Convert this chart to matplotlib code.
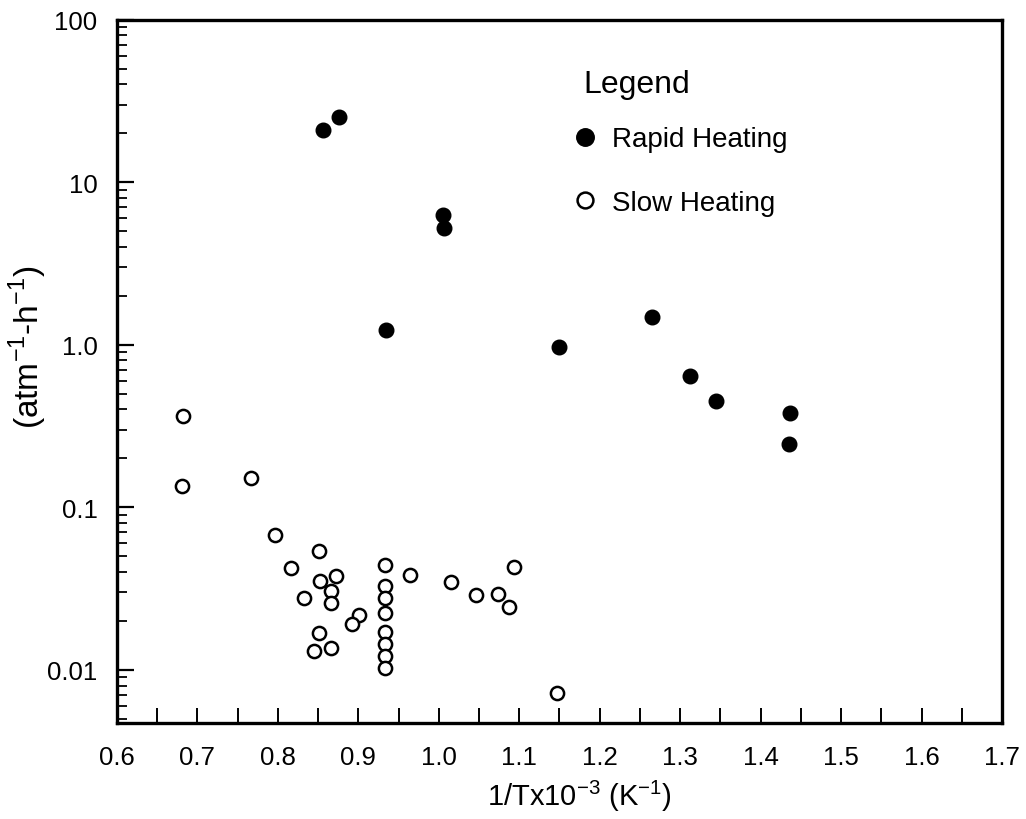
import numpy as np
import matplotlib
matplotlib.use("Agg")
import matplotlib.pyplot as plt
from matplotlib.ticker import FixedLocator, FixedFormatter, MultipleLocator, LogLocator, NullFormatter

plt.rcParams['font.family'] = ['Liberation Sans', 'DejaVu Sans']
plt.rcParams['mathtext.fontset'] = 'custom'
plt.rcParams['mathtext.rm'] = 'Liberation Sans'

# Rapid heating (filled circles)
rapid_x = [0.856, 0.876, 1.005, 1.006, 0.935, 1.149, 1.265, 1.312, 1.345, 1.437, 1.435]
rapid_y = [21.0, 25.1, 6.28, 5.20, 1.24, 0.964, 1.48, 0.640, 0.449, 0.382, 0.244]

# Slow heating (open circles)
slow_x = [0.682, 0.681, 0.767, 0.797, 0.851, 0.816, 0.872, 0.852, 0.866, 0.833,
          0.866, 0.901, 0.892, 0.851, 0.845, 0.866,
          0.933, 0.933, 0.933, 0.933, 0.933, 0.933, 0.933, 0.933,
          0.964, 1.015, 1.046, 1.073, 1.087, 1.094, 1.147]
slow_y = [0.362, 0.1356, 0.151, 0.0675, 0.0537, 0.0423, 0.0376, 0.0350, 0.0305, 0.0276,
          0.0256, 0.0217, 0.0191, 0.0168, 0.0131, 0.0137,
          0.0443, 0.0326, 0.0275, 0.0223, 0.0170, 0.0144, 0.0121, 0.0103,
          0.0385, 0.0345, 0.0290, 0.0292, 0.0245, 0.0426, 0.0072]

x_ticks = [0.6, 0.7, 0.8, 0.9, 1.0, 1.1, 1.2, 1.3, 1.4, 1.5, 1.6, 1.7]
x_ticklabels = ['0.6', '0.7', '0.8', '0.9', '1.0', '1.1', '1.2', '1.3', '1.4', '1.5', '1.6', '1.7']
y_ticks = [0.01, 0.1, 1.0, 10, 100]
y_ticklabels = ['0.01', '0.1', '1.0', '10', '100']

fig = plt.figure(figsize=(10.26, 8.2), dpi=100)
ax = fig.add_axes([0.114, 0.117, 0.8626, 0.8578])

ax.plot(rapid_x, rapid_y, linestyle='none', marker='o', markersize=10.5,
        color='black', label='Rapid Heating')
ax.plot(slow_x, slow_y, linestyle='none', marker='o', markersize=9.5,
        markerfacecolor='white', markeredgecolor='black', markeredgewidth=1.8,
        label='Slow Heating')

ax.set_yscale('log')
ax.set_xlim(0.6, 1.7)
ax.set_ylim(0.0047, 100)

# ticks
ax.xaxis.set_major_locator(FixedLocator(x_ticks))
ax.xaxis.set_major_formatter(FixedFormatter(x_ticklabels))
ax.xaxis.set_minor_locator(MultipleLocator(0.05))
ax.yaxis.set_major_locator(FixedLocator(y_ticks))
ax.yaxis.set_major_formatter(FixedFormatter(y_ticklabels))
ax.yaxis.set_minor_locator(LogLocator(base=10, subs=np.arange(2, 10)))
ax.yaxis.set_minor_formatter(NullFormatter())

ax.tick_params(axis='x', which='both', direction='in', length=11, width=1.4,
               labelsize=18.5, pad=16, top=False)
ax.tick_params(axis='y', which='major', direction='in', length=12, width=1.6,
               labelsize=18.5, pad=14, right=False)
ax.tick_params(axis='y', which='minor', direction='in', length=7, width=1.3, right=False)

for s in ax.spines.values():
    s.set_linewidth(2.4)

# axis labels
ax.set_xlabel(r'1/Tx10$^{-3}$ (K$^{-1}$)', fontsize=21)
ax.xaxis.set_label_coords(0.523, -0.078)
fig.text(0.027, 0.577, r'(atm$^{-1}$-h$^{-1}$)', fontsize=24, rotation=90,
         ha='center', va='center')

# legend
ax.text(0.5266, 0.9086, 'Legend', transform=ax.transAxes, fontsize=23,
        ha='left', va='center')
leg = ax.legend(loc='upper left', bbox_to_anchor=(0.510, 0.864), frameon=False,
                fontsize=20, labelspacing=1.34, handlelength=0.4,
                handletextpad=0.77, borderaxespad=0, markerscale=1.2)

fig.savefig('out.png', dpi=100)
